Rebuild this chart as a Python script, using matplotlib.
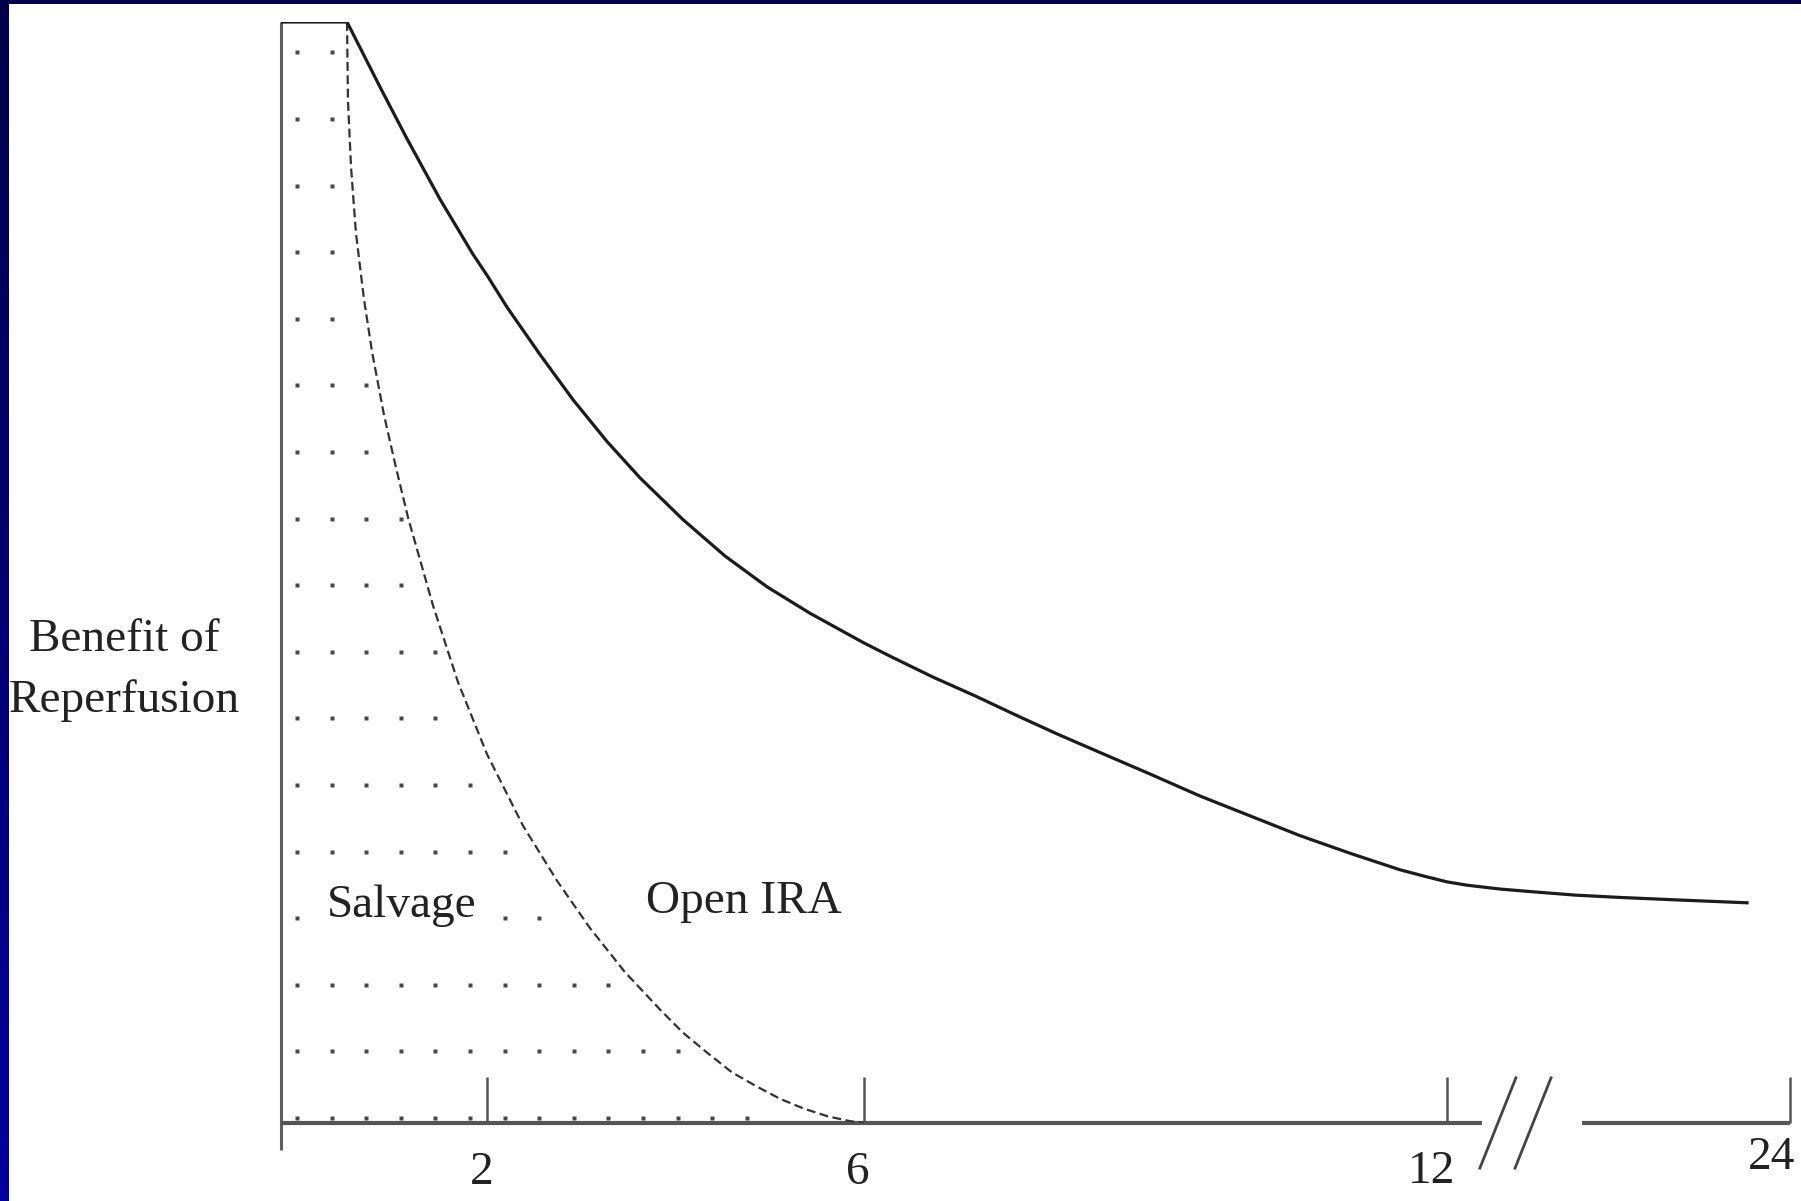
import numpy as np
import matplotlib
matplotlib.use("Agg")
import matplotlib.pyplot as plt
import matplotlib.transforms as mtrans
from matplotlib.colors import LinearSegmentedColormap

# ---------------- data ----------------
# hours after onset vs. benefit of reperfusion (0-100, arbitrary units)
BENEFIT_T = [0.0, 0.641, 0.961, 1.223, 1.544, 1.864, 2.0, 2.212, 2.562, 2.912,
             3.273, 3.623, 4.080, 4.525, 4.971, 5.427, 5.851, 6.0, 6.268,
             6.710, 7.142, 7.575, 7.997, 8.429, 8.943, 9.458, 9.972, 10.487,
             11.002, 11.516, 11.774, 12.0, 12.700, 13.854, 15.009, 16.479,
             17.948, 20.152, 22.497]
BENEFIT_V = [100, 100, 94.1, 89.4, 83.9, 78.9, 77.0, 74.1, 69.8, 65.7,
             61.9, 58.6, 54.8, 51.5, 48.7, 46.3, 44.3, 43.6, 42.4,
             40.5, 38.8, 37.0, 35.3, 33.65, 31.7, 29.7, 27.9, 26.1,
             24.5, 23.0, 22.4, 21.9, 21.6, 21.25, 21.0, 20.7,
             20.5, 20.25, 20.0]
SALVAGE_T = [0.641, 0.650, 0.680, 0.728, 0.806, 0.883, 1.000, 1.117, 1.233,
             1.476, 1.718, 2.0, 2.382, 2.743, 3.093, 3.464, 3.836, 4.080,
             4.334, 4.599, 4.865, 5.109, 5.363, 5.618, 5.851, 6.0]
SALVAGE_V = [100, 92.9, 86.8, 80.8, 74.8, 70.1, 64.3, 59.5, 55.0,
             47.0, 40.05, 33.5, 27.0, 22.0, 17.7, 13.7, 10.3, 8.2,
             6.4, 4.6, 3.3, 2.2, 1.3, 0.6, 0.17, 0.0]
TICK_HOURS = [2, 6, 12, 24]
TICK_LABELS = ["2", "6", "12", "24"]
Y_LABEL = "Benefit of\nReperfusion"
REGION_LABELS = ["Salvage", "Open IRA"]
REGION_T = [1.17, 4.73]
REGION_V = [19.7, 20.1]

# hand-drawn, non-uniform time axis (hours -> relative axis position)
AXIS_HOURS = [0, 2, 6, 12, 24]
AXIS_POS = [0, 206, 583, 1166, 1509]
BREAK_HOURS = (13.22, 16.72)

# ---------------- style ----------------
plt.rcParams["font.family"] = ["Liberation Serif", "DejaVu Serif"]
INK = "#222222"
AXC = "#555555"
FS = 34
# tick label placement (pixels: dx right, dy below the axis line)
TICK_LABEL_OFFSETS = [(-5, 50), (-6, 50), (-15, 49), (-18, 35)]

fig = plt.figure(figsize=(18.01, 12.01), dpi=100)
fig.patch.set_facecolor("white")

# slide frame: dark-navy top strip and gradient left strip
top = fig.add_axes([0, 1 - 4 / 1201, 1, 4 / 1201])
top.set_facecolor("#00004a")
top.set_xticks([]); top.set_yticks([])
for s in top.spines.values():
    s.set_visible(False)
left = fig.add_axes([0, 0, 8 / 1801, 1 - 4 / 1201])
cm = LinearSegmentedColormap.from_list("navy", ["#00004c", "#00009e"])
left.imshow(np.linspace(0, 1, 256).reshape(-1, 1), cmap=cm, aspect="auto")
left.set_axis_off()

# main axes
ax = fig.add_axes([281 / 1801, (1201 - 1123) / 1201, 1509 / 1801, 1101 / 1201])
ax.set_facecolor("none")
fwd = lambda t: np.interp(t, AXIS_HOURS, AXIS_POS)
inv = lambda p: np.interp(p, AXIS_POS, AXIS_HOURS)
ax.set_xscale("function", functions=(fwd, inv))
ax.set_xlim(0, 24)
ax.set_ylim(0, 100)
for s in ax.spines.values():
    s.set_visible(False)

ax.set_xticks(TICK_HOURS)
ax.tick_params(axis="x", direction="in", length=33, width=1.8, color=AXC,
               labelbottom=False)
ax.tick_params(axis="y", left=False, labelleft=False)

# tick labels, drawn under each tick
xtrans = ax.get_xaxis_transform()
for h, lab, (dx, dy) in zip(TICK_HOURS, TICK_LABELS, TICK_LABEL_OFFSETS):
    off = mtrans.ScaledTranslation(dx / fig.dpi, -dy / fig.dpi, fig.dpi_scale_trans)
    ax.text(h, 0, lab, transform=xtrans + off, ha="center", va="center",
            fontsize=FS, color=INK, clip_on=False)

# axis lines (y axis runs a little below the baseline), broken x axis
ax.plot([0, 0], [-2.45, 100], color="#5e5e5e", lw=2.2, clip_on=False,
        solid_capstyle="butt")
ax.plot([0, BREAK_HOURS[0]], [0, 0], color=AXC, lw=3, clip_on=False,
        solid_capstyle="butt")
ax.plot([BREAK_HOURS[1], 24], [0, 0], color=AXC, lw=3, clip_on=False,
        solid_capstyle="butt")
for x0, x1 in [(13.15, 14.41), (14.38, 15.64)]:
    ax.plot([x0, x1], [-4.1, 4.1], color="#444444", lw=2, clip_on=False)

# dotted texture under the salvage curve (uniform pixel grid)
fig.canvas.draw()
bb = ax.get_window_extent()
cols = np.arange(16, bb.width * 0.5, 34.6)
rows = np.arange(5, bb.height, 66.6)
CX, CY = np.meshgrid(cols, rows)
pix = np.column_stack([bb.x0 + CX.ravel(), bb.y0 + CY.ravel()])
dat = ax.transData.inverted().transform(pix)
curve_at = np.interp(dat[:, 0], SALVAGE_T, SALVAGE_V, left=100, right=0)
keep = (curve_at - dat[:, 1]) >= 2.0
ax.plot(dat[keep, 0], dat[keep, 1], "s", ms=2.8, color="#4a4a4a",
        mec="none", clip_on=False, zorder=1.5)

# curves
ax.plot(SALVAGE_T, SALVAGE_V, color="#333333", lw=1.6, dashes=(4, 2),
        zorder=2.5)
ax.plot(BENEFIT_T, BENEFIT_V, color="#1c1c1c", lw=2.3, zorder=2.6,
        solid_joinstyle="round")

# region labels
for lab, t, v in zip(REGION_LABELS, REGION_T, REGION_V):
    ax.text(t, v, lab, ha="center", va="center", fontsize=FS, color=INK,
            bbox=dict(facecolor="white", edgecolor="none", pad=1), zorder=3)

# y label
fig.text(124 / 1801, 1 - 670 / 1201, Y_LABEL, ha="center", va="center",
         multialignment="center", linespacing=1.55, fontsize=FS, color=INK)

fig.savefig("out.png", dpi=100, facecolor="white")
